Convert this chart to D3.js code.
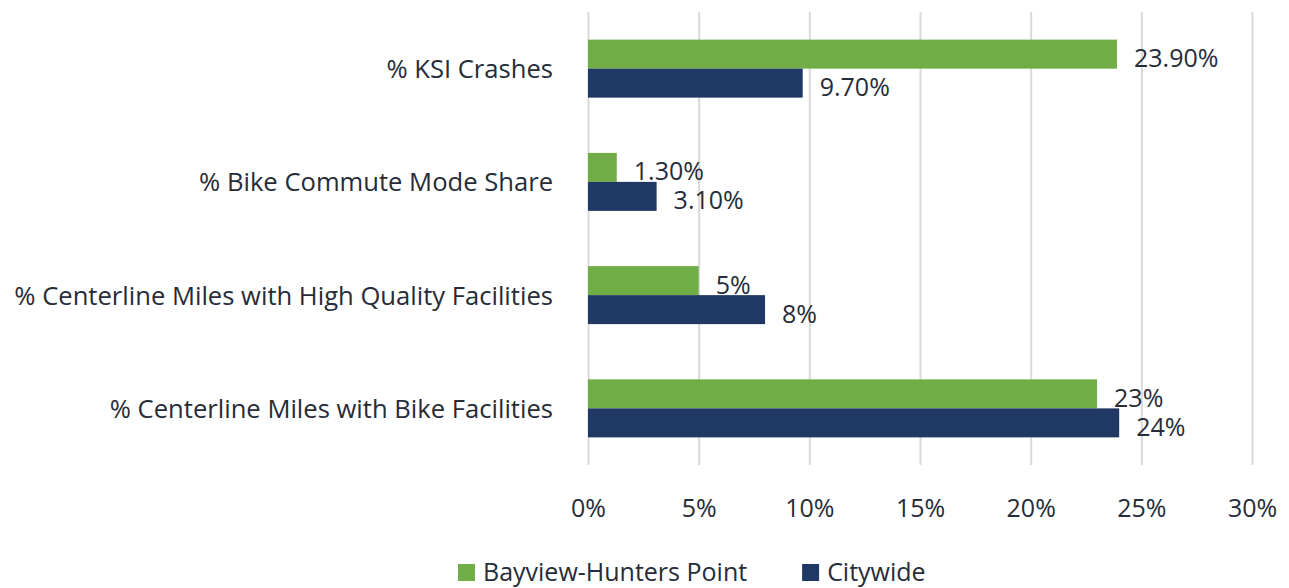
<!DOCTYPE html>
<html>
<head>
<meta charset="utf-8">
<script src="https://cdn.jsdelivr.net/npm/d3@7"></script>
<style>
	body { margin: 0; background: #fff; }
	svg text { font-family: "Open Sans", sans-serif; fill: #262c38; }
</style>
</head>
<body>
<div id="chart"></div>
<script>
let categories	= ['% KSI Crashes', '% Bike Commute Mode Share', '% Centerline Miles with High Quality Facilities', '% Centerline Miles with Bike Facilities'];
let seriesNames	= ['Bayview-Hunters Point', 'Citywide'];
let bayview		= [23.9, 1.3, 5, 23];
let citywide	= [9.7, 3.1, 8, 24];
let bayviewLbl	= ['23.90%', '1.30%', '5%', '23%'];
let citywideLbl	= ['9.70%', '3.10%', '8%', '24%'];
let xTicks		= [0, 5, 10, 15, 20, 25, 30];
let colors		= ['#70ad47', '#203864'];

let canvasWidth		= 1289;
let canvasHeight	= 588;
let fontSize		= 25;

let rows = categories.map((c, i) => ({
	name: c,
	values: [
		{ key: seriesNames[0], v: bayview[i], label: bayviewLbl[i] },
		{ key: seriesNames[1], v: citywide[i], label: citywideLbl[i] }
	]
}));

let x = d3.scaleLinear().domain([0, 30]).range([588, 1252]);
let y = d3.scaleBand().domain(categories).range([12, 465])
	.paddingInner(0.488).paddingOuter(0.244);
let ySub = d3.scaleBand().domain(seriesNames).range([0, y.bandwidth()]);
let color = d3.scaleOrdinal().domain(seriesNames).range(colors);

let svg = d3.select('#chart').append('svg')
	.attr('width', canvasWidth)
	.attr('height', canvasHeight);

// gridlines + tick labels
let xAxis = svg.append('g')
	.attr('transform', 'translate(0,465)')
	.call(d3.axisBottom(x).tickValues(xTicks).tickSize(-453).tickPadding(30).tickFormat((d) => d + '%'));
xAxis.select('.domain').remove();
xAxis.selectAll('line').attr('stroke', '#d9d9d9').attr('stroke-width', 2);
xAxis.selectAll('text')
	.attr('font-size', fontSize)
	.attr('dy', null)
	.attr('dominant-baseline', 'central')
	.attr('y', 42)
	.style('font-family', '"Open Sans", sans-serif')
	.style('fill', '#262c38');

// category labels
let yAxis = svg.append('g')
	.attr('transform', 'translate(553,0)')
	.call(d3.axisLeft(y).tickSize(0).tickPadding(0));
yAxis.select('.domain').remove();
yAxis.selectAll('text')
	.attr('font-size', 25.6)
	.attr('dy', null)
	.attr('dominant-baseline', 'central')
	.style('font-family', '"Open Sans", sans-serif')
	.style('fill', '#262c38');

let groupBar = svg.selectAll('.group-bar')
	.data(rows).enter().append('g')
		.attr('class', 'group-bar')
		.attr('transform', (o) => ('translate(0,' + y(o.name) + ')'));

groupBar.selectAll('rect')
	.data((o) => o.values).enter().append('rect')
		.attr('x', x(0))
		.attr('y', (d) => ySub(d.key))
		.attr('width', (d) => x(d.v) - x(0))
		.attr('height', ySub.bandwidth())
		.attr('fill', (d) => color(d.key));

groupBar.selectAll('.lbl')
	.data((o) => o.values).enter().append('text')
		.attr('class', 'lbl')
		.attr('x', (d) => x(d.v) + 17)
		.attr('y', (d) => ySub(d.key) + ySub.bandwidth() / 2 + 3)
		.attr('dominant-baseline', 'central')
		.attr('font-size', fontSize)
		.text((d) => d.label);

// legend
let legend = svg.append('g').attr('class', 'legend');
let lx = 458;
seriesNames.forEach((s) => {
	let item = legend.append('g').attr('transform', 'translate(' + lx + ',0)');
	item.append('rect')
		.attr('x', 0).attr('y', 564)
		.attr('width', 17).attr('height', 17)
		.attr('fill', color(s));
	let t = item.append('text')
		.attr('x', 25).attr('y', 581)
		.attr('font-size', fontSize)
		.text(s);
	lx += 25 + t.node().getComputedTextLength() + 55;
});
</script>
</body>
</html>
